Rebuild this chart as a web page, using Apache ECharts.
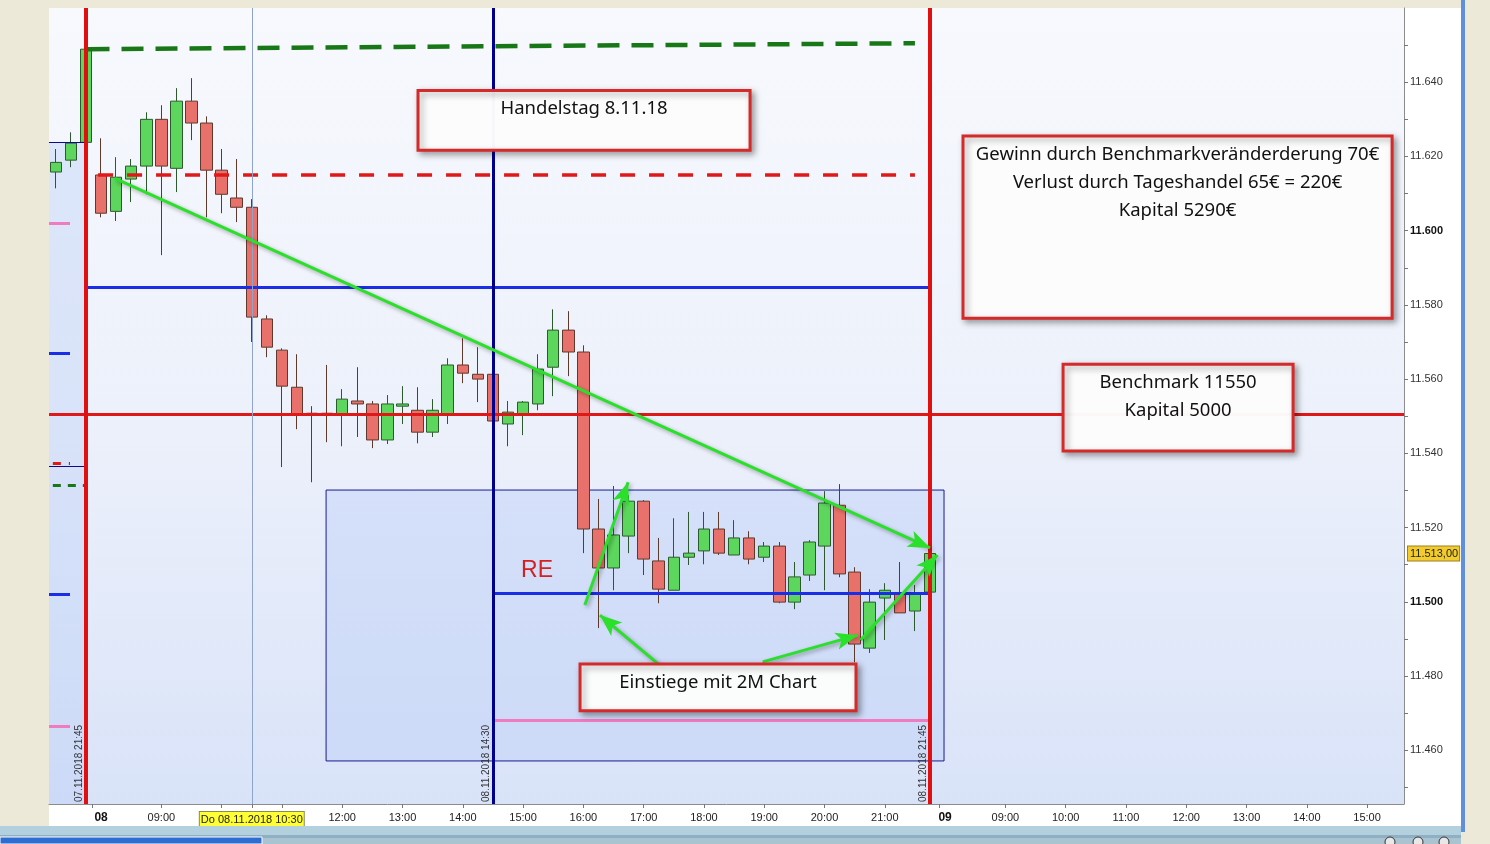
<!DOCTYPE html>
<html><head><meta charset="utf-8">
<script src="https://cdn.jsdelivr.net/npm/echarts@6/dist/echarts.min.js"></script>
<style>html,body{margin:0;padding:0;background:#ece9d8;overflow:hidden}#c{width:1490px;height:844px}</style>
</head><body><div id="c"></div>
<script>
// ---- data (15-minute slots; slot 0 = 07.11.2018 21:45, slot 1 = 08.11.2018 08:00) ----
const slots  = [-2,-1,0,1,2,3,4,5,6,7,8,9,10,11,12,13,14,15,16,17,18,19,20,21,22,23,24,25,26,27,28,29,30,31,32,33,34,35,36,37,38,39,40,41,42,43,44,45,46,47,48,49,50,51,52,53,54,55,56];
const opens  = [11615.8,11619.0,11623.8,11615.0,11605.2,11613.9,11617.4,11630.0,11616.8,11634.9,11629.0,11616.3,11608.8,11606.3,11576.2,11567.8,11557.8,11550.8,11550.8,11550.3,11554.1,11553.3,11543.6,11552.7,11551.6,11545.7,11550.3,11563.8,11561.3,11561.3,11547.9,11550.3,11553.3,11563.2,11573.2,11567.3,11519.6,11509.1,11517.7,11527.1,11511.0,11503.1,11512.0,11513.7,11519.6,11512.6,11517.2,11512.0,11515.0,11499.9,11507.2,11515.0,11526.0,11508.0,11487.5,11501.0,11502.3,11497.5,11502.6];
const closes = [11618.4,11623.6,11648.9,11604.7,11614.4,11617.4,11630.0,11617.4,11634.9,11629.0,11616.3,11609.8,11606.3,11576.7,11568.6,11558.1,11550.3,11550.3,11550.3,11554.6,11553.3,11543.6,11553.3,11553.3,11545.7,11551.6,11563.8,11561.6,11560.0,11548.7,11551.1,11553.8,11562.7,11573.2,11567.3,11519.6,11509.1,11518.0,11527.1,11511.5,11503.4,11512.0,11513.1,11519.6,11513.1,11517.2,11511.5,11515.0,11499.9,11506.7,11516.1,11526.6,11507.5,11488.6,11499.9,11503.1,11497.0,11502.3,11513.0];
const lows   = [11611.4,11617.1,11623.5,11603.6,11602.6,11607.7,11609.8,11593.4,11610.4,11624.4,11603.6,11604.7,11602.3,11570.0,11565.9,11536.3,11546.5,11532.2,11543.0,11541.9,11544.4,11541.4,11542.5,11547.9,11542.7,11544.4,11547.9,11558.9,11553.8,11547.5,11541.9,11544.9,11551.6,11555.4,11560.8,11513.1,11492.9,11503.1,11513.1,11507.2,11499.6,11503.1,11509.9,11510.1,11512.6,11512.6,11510.1,11510.7,11499.6,11498.0,11505.6,11503.1,11506.6,11483.7,11486.2,11489.7,11497.0,11492.1,11502.6];
const highs  = [11622.0,11626.5,11649.2,11624.9,11619.8,11619.3,11631.9,11633.8,11638.4,11641.1,11630.8,11622.0,11619.3,11608.5,11577.2,11568.3,11566.7,11552.7,11563.8,11557.3,11563.2,11554.1,11555.7,11558.1,11557.8,11554.6,11565.6,11571.0,11568.6,11565.0,11554.1,11554.1,11566.7,11578.8,11578.3,11569.1,11527.7,11531.2,11528.7,11527.4,11517.2,11522.5,11524.2,11524.2,11524.2,11522.0,11519.0,11516.1,11516.1,11510.7,11516.6,11529.8,11531.7,11509.3,11503.4,11505.0,11510.7,11504.5,11513.0];

const xLabelSlots = [1,5,11,17,21,25,29,33,37,41,45,49,53,57,61,65,69,73,77,81,85];
const xLabelTexts = ['08','09:00','Do 08.11.2018 10:30','12:00','13:00','14:00','15:00','16:00','17:00','18:00','19:00','20:00','21:00','09','09:00','10:00','11:00','12:00','13:00','14:00','15:00'];
const xTickSlots  = [0.4,5,9,11,13,17,21,25,29,33,37,41,45,49,53,56.6,61,65,69,73,77,81,85];
const yLabelValues = [11460,11480,11500,11520,11540,11560,11580,11600,11620,11640];
const yTickValues  = [11450,11460,11470,11480,11490,11500,11510,11520,11530,11540,11550,11560,11570,11580,11590,11600,11610,11620,11630,11640,11650];

const benchmark = 11550.6;
const lastPrice = 11513.0;

// annotation positions in data coordinates [slot, price]
const notes = [
  {text:'Handelstag 8.11.18', from:[22.03,11637.8], to:[44.06,11621.7]},
  {text:'Gewinn durch Benchmarkveränderderung 70€\nVerlust durch Tageshandel 65€ = 220€\nKapital 5290€', from:[58.19,11625.5], to:[86.66,11576.4]},
  {text:'Benchmark 11550\nKapital 5000', from:[64.83,11564.0], to:[80.09,11540.6]},
  {text:'Einstiege mit 2M Chart', from:[32.78,11483.2], to:[51.09,11470.6]}
];
const arrows = [
  [[1.92,11614.1],[56.0,11514.5]],
  [[33.1,11499.1],[35.97,11532.2]],
  [[38.3,11482.1],[34.1,11496.4]],
  [[44.9,11483.8],[51.2,11491.0]],
  [[51.4,11489.7],[56.5,11512.6]]
];

// ---- chart ----
const XMIN = -2.455, XMAX = 87.45, YMIN = 11445.5, YMAX = 11660;
const candleData = slots.map((t,i)=>[t,opens[i],closes[i],lows[i],highs[i]]);
const FONT = 'Liberation Sans, Arial, sans-serif';
const NOTEFONT = 'Noto Sans, Open Sans, sans-serif';

function seg(a,b,style){ return [{coord:a, lineStyle:style},{coord:b}]; }
const BLUE = '#1a2ee6', RED = '#e01818', PINK = '#f07cc0', DGREEN = '#187818', NAVY = '#0a0a8a';

const levelLines = [
  seg([0.1,11648.9],[55,11650.5],{color:DGREEN,width:4.5,type:[22,12]}),
  seg([0.8,11615.0],[55,11615.0],{color:RED,width:3.5,type:[15,14]}),
  seg([0,11584.8],[56,11584.8],{color:BLUE,width:3,type:'solid'}),
  {yAxis:benchmark, lineStyle:{color:RED,width:3,type:'solid'}},
  seg([27,11502.3],[56,11502.3],{color:BLUE,width:3,type:'solid'}),
  seg([27,11468.0],[56,11468.0],{color:PINK,width:3,type:'solid'}),
  seg([XMIN,11602.0],[-1.06,11602.0],{color:PINK,width:3,type:'solid'}),
  seg([XMIN,11567.0],[-1.06,11567.0],{color:BLUE,width:3,type:'solid'}),
  seg([-2.2,11537.4],[-1.06,11537.4],{color:RED,width:3,type:[8,8]}),
  seg([-2.2,11531.4],[0,11531.4],{color:DGREEN,width:3,type:[8,7]}),
  seg([XMIN,11502.1],[-1.06,11502.1],{color:BLUE,width:3,type:'solid'}),
  seg([XMIN,11466.5],[-1.06,11466.5],{color:PINK,width:3,type:'solid'}),
  seg([XMIN,11623.8],[0,11623.8],{color:NAVY,width:1,type:'solid'}),
  seg([XMIN,11536.6],[0,11536.6],{color:NAVY,width:1,type:'solid'})
];
function vlab(txt){ return {show:true, position:'insideStartTop', formatter:txt, color:'#333', fontSize:10, fontFamily:FONT, distance:2}; }
const verticals = [
  {xAxis:11, lineStyle:{color:'#8ea4cc',width:1,type:'solid'}, label:{show:false}},
  {xAxis:0,  lineStyle:{color:'#e01010',width:4,type:'solid'}, label:vlab('07.11.2018 21:45')},
  {xAxis:27, lineStyle:{color:'#00008f',width:3,type:'solid'}, label:vlab('08.11.2018 14:30')},
  {xAxis:56, lineStyle:{color:'#e01010',width:4,type:'solid'}, label:vlab('08.11.2018 21:45')}
];

const chart = echarts.init(document.getElementById('c'), null, {renderer:'canvas'});
const gridBg = new echarts.graphic.LinearGradient(0,0,0,1,[{offset:0,color:'#f7f9fd'},{offset:0.5,color:'#edf1fb'},{offset:1,color:'#d9e3f8'}]);

chart.setOption({
  animation:false,
  backgroundColor:'#ece9d8',
  graphic:[
    {type:'rect', z:-10, shape:{x:49,y:8,width:1412,height:820}, style:{fill:'#ffffff'}},
    {type:'rect', z:100, shape:{x:1461,y:0,width:4,height:832}, style:{fill:'#5f8fdd'}},
    {type:'rect', z:100, shape:{x:0,y:826,width:1461,height:9}, style:{fill:'#b2d0de'}},
    {type:'rect', z:100, shape:{x:0,y:835,width:1461,height:3}, style:{fill:'#8fb0c2'}},
    {type:'rect', z:100, shape:{x:262,y:838,width:1199,height:6}, style:{fill:'#a9c3d0'}},
    {type:'rect', z:101, shape:{x:0,y:837,width:262,height:7}, style:{fill:'#2d6cd2', stroke:'#ffffff', lineWidth:1}},
    {type:'circle', z:101, shape:{cx:1390,cy:842,r:5}, style:{fill:'#e8e8e8', stroke:'#333'}},
    {type:'circle', z:101, shape:{cx:1418,cy:842,r:5}, style:{fill:'#e8e8e8', stroke:'#333'}},
    {type:'circle', z:101, shape:{cx:1444,cy:842,r:5}, style:{fill:'#e8e8e8', stroke:'#333'}}
  ],
  grid:{left:49, right:86, top:8, bottom:40, show:true, backgroundColor:gridBg, borderWidth:0},
  xAxis:{
    type:'value', min:XMIN, max:XMAX,
    splitLine:{show:false},
    axisLine:{show:true, onZero:false, lineStyle:{color:'#8c8c8c'}},
    axisTick:{show:true, customValues:xTickSlots, length:4, lineStyle:{color:'#777'}},
    axisLabel:{
      customValues:xLabelSlots, margin:8, fontSize:11, color:'#222', fontFamily:FONT,
      formatter:function(v){
        const i = xLabelSlots.indexOf(v); if(i<0) return '';
        const s = xLabelTexts[i];
        if (v===1 || v===57) return '{b|'+s+'}';
        if (v===11) return '{hl|'+s+'}';
        return s;
      },
      rich:{
        b:{fontWeight:'bold', fontSize:12, color:'#111', fontFamily:FONT},
        hl:{backgroundColor:'#ffff33', borderColor:'#8a8a50', borderWidth:1, padding:[2,1,1,1], fontSize:11, color:'#222', fontFamily:FONT}
      }
    }
  },
  yAxis:{
    type:'value', position:'right', min:YMIN, max:YMAX, scale:true,
    splitLine:{show:false},
    axisLine:{show:true, onZero:false, lineStyle:{color:'#8c8c8c'}},
    axisTick:{show:true, customValues:yTickValues, length:4, lineStyle:{color:'#777'}},
    axisLabel:{
      customValues:yLabelValues, margin:6, fontSize:11, color:'#333', fontFamily:FONT, align:'left',
      formatter:function(v){
        const s = (v/1000).toFixed(3);
        return (v%100===0) ? '{b|'+s+'}' : s;
      },
      rich:{b:{fontWeight:'bold', fontSize:11, color:'#111', fontFamily:FONT}}
    }
  },
  series:[
    {
      name:'range', type:'line', data:[], z:1,
      markArea:{
        silent:true, z:1,
        data:[
          [{coord:[XMIN,11623.8], itemStyle:{color:'rgba(185,205,247,0.38)', borderWidth:0}},{coord:[0,YMIN]}],
          [{coord:[15.93,11530.1], itemStyle:{color:'rgba(185,205,247,0.42)', borderColor:'#1a1a90', borderWidth:1}},{coord:[56.93,11457.1]}]
        ]
      }
    },
    {
      name:'FDAX', type:'candlestick', z:2,
      dimensions:['slot','open','close','low','high'],
      encode:{x:0, y:[1,2,3,4]},
      data:candleData, barWidth:12,
      itemStyle:{color:'#5cd65c', color0:'#e8716b', borderColor:'#2d5a2d', borderColor0:'#5e3a2c', borderWidth:1}
    },
    {
      name:'levels', type:'line', data:[], z:3,
      markLine:{silent:true, symbol:['none','none'], z:3, label:{show:false}, data:levelLines.concat(verticals)},
      markPoint:{
        silent:true, z:3, symbol:'rect', symbolSize:1, itemStyle:{color:'rgba(0,0,0,0)'},
        data:[{coord:[29.93,11508.3], label:{show:true, position:'inside', formatter:'RE', fontSize:23, color:'#d42020', fontFamily:FONT}}]
      }
    },
    {
      name:'last', type:'line', data:[], z:4, clip:false,
      markLine:{silent:true, symbol:['none','none'], z:6,
        lineStyle:{color:'rgba(0,0,0,0)', width:0},
        label:{show:true, position:'end', formatter:'11.513,00', distance:4, backgroundColor:'#f2cc2c', borderColor:'#a08020', borderWidth:1, padding:[2,1,1,2], color:'#222', fontSize:11, fontFamily:FONT},
        data:[{yAxis:lastPrice}]}
    },
    {
      name:'arrows', type:'line', data:[], z:4,
      markLine:{silent:true, z:7, symbol:['none','arrow'], symbolSize:[13,22], label:{show:false},
        lineStyle:{color:'#2ae02a', width:3, type:'solid', shadowBlur:4, shadowColor:'rgba(0,0,0,0.35)', shadowOffsetX:2, shadowOffsetY:2},
        itemStyle:{color:'#2ae02a'},
        data:arrows.map(a=>[{coord:a[0]},{coord:a[1]}])}
    },
    {
      name:'notes', type:'line', data:[], z:10,
      markArea:{
        silent:true, z:10,
        itemStyle:{color:'rgba(255,255,255,0.97)', borderColor:'#d42a2a', borderWidth:3, shadowBlur:6, shadowColor:'rgba(0,0,0,0.35)', shadowOffsetX:3, shadowOffsetY:3},
        label:{show:true, position:'insideTop', distance:6, color:'#111', fontSize:18.5, lineHeight:28, fontFamily:NOTEFONT, align:'center'},
        data:notes.map(n=>[{coord:n.from, name:n.text},{coord:n.to}])
      }
    }
  ]
});
</script></body></html>
